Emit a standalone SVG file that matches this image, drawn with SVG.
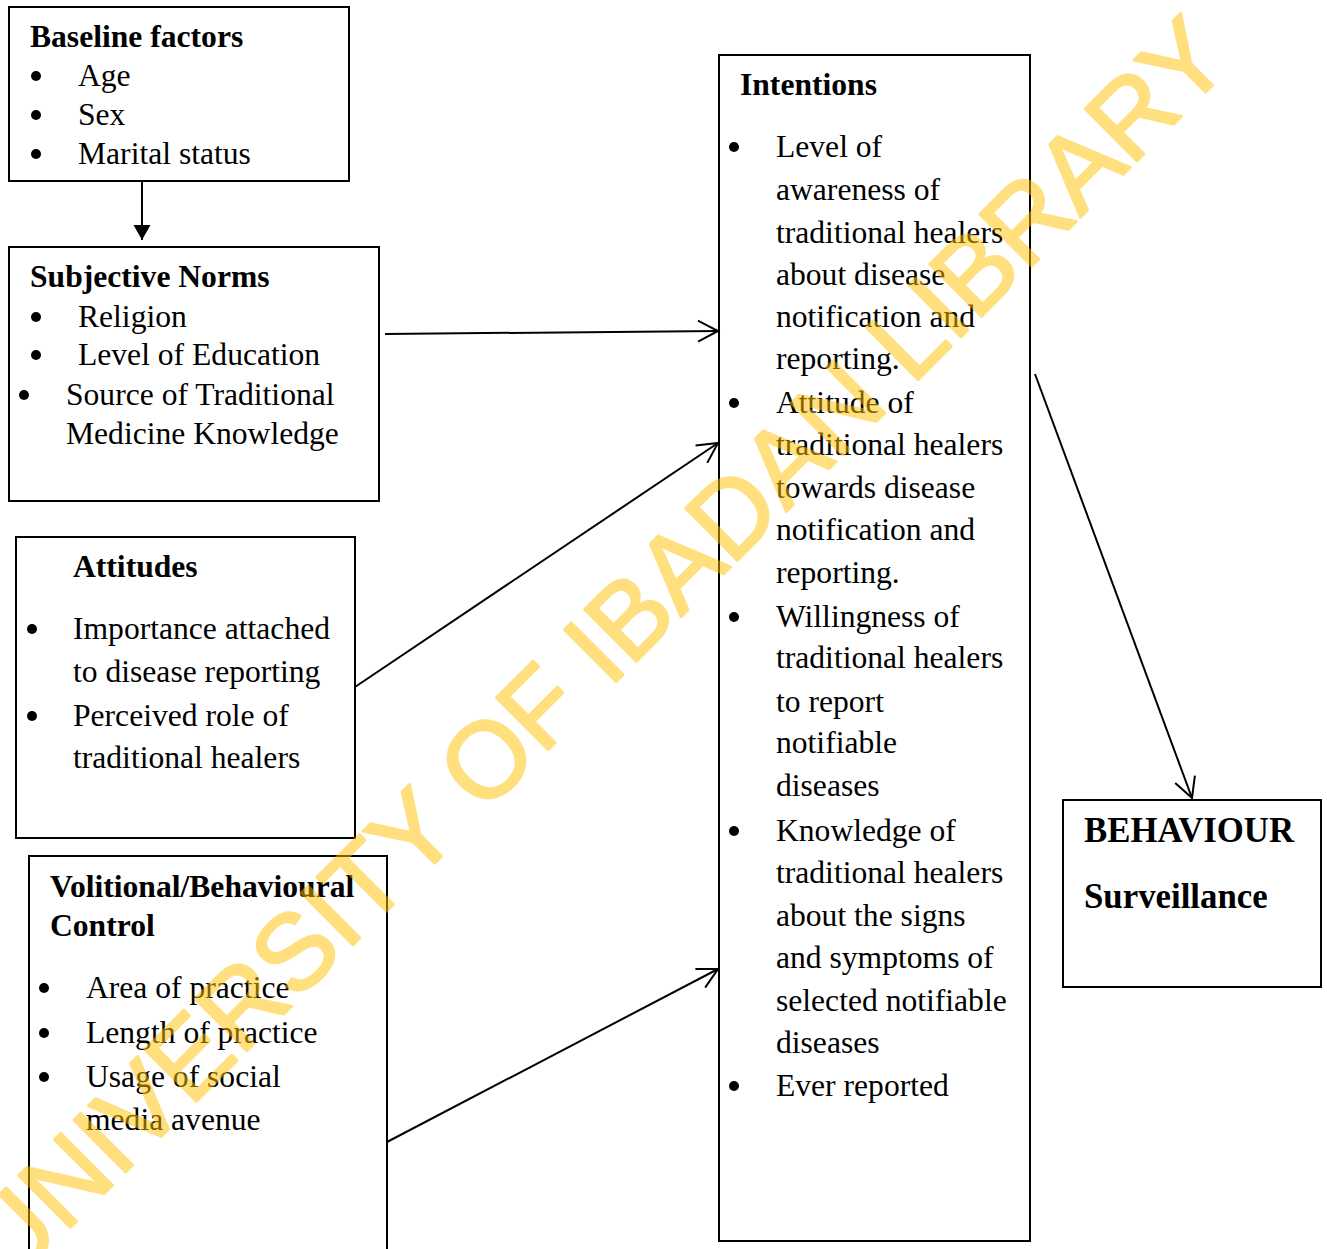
<svg xmlns="http://www.w3.org/2000/svg" width="1327" height="1249" viewBox="0 0 1327 1249">
<style>
.box{fill:#fff;stroke:#000;stroke-width:2}
.t{font-family:"Liberation Serif","Times New Roman",serif;font-size:31.6px;fill:#000}
.b{font-weight:bold}
.big{font-size:34.8px}
.blt{fill:#000}
.conn{stroke:#000;stroke-width:2;fill:none}
.wm{font-family:"Liberation Sans",Arial,sans-serif;font-size:107px;fill:#FFC000;stroke:#FFC000;stroke-width:2.5;stroke-linejoin:round}
</style>
<defs>
<marker id="open" markerUnits="userSpaceOnUse" markerWidth="26" markerHeight="26" viewBox="-23 -13 26 26" refX="0" refY="0" orient="auto" overflow="visible">
<path d="M-20,-10.5 L0,0 L-20,10.5" fill="none" stroke="#000" stroke-width="2"/>
</marker>
<marker id="solid" markerUnits="userSpaceOnUse" markerWidth="20" markerHeight="20" viewBox="-16 -10 20 20" refX="0" refY="0" orient="auto" overflow="visible">
<path d="M-15,-8.5 L0,0 L-15,8.5 Z" fill="#000"/>
</marker>
</defs>

<g id="baseline">
<rect class="box" x="9" y="7" width="340" height="174"/>
<text class="t b" x="30" y="47">Baseline factors</text>
<circle class="blt" cx="36" cy="76" r="5"/>
<circle class="blt" cx="36" cy="115" r="5"/>
<circle class="blt" cx="36" cy="154" r="5"/>
<text class="t"><tspan x="78" y="86">Age</tspan><tspan x="78" y="125">Sex</tspan><tspan x="78" y="164">Marital status</tspan></text>
</g>

<g id="subjective">
<rect class="box" x="9" y="247" width="370" height="254"/>
<text class="t b" x="30" y="287">Subjective Norms</text>
<circle class="blt" cx="36" cy="317" r="5"/>
<circle class="blt" cx="36" cy="355" r="5"/>
<circle class="blt" cx="24" cy="395" r="5"/>
<text class="t"><tspan x="78" y="327">Religion</tspan><tspan x="78" y="365">Level of Education</tspan><tspan x="66" y="405">Source of Traditional</tspan><tspan x="66" y="444">Medicine Knowledge</tspan></text>
</g>

<g id="attitudes">
<rect class="box" x="16" y="537" width="339" height="301"/>
<text class="t b" x="73" y="577">Attitudes</text>
<circle class="blt" cx="32" cy="629" r="5"/>
<circle class="blt" cx="32" cy="716" r="5"/>
<text class="t"><tspan x="73" y="639">Importance attached</tspan><tspan x="73" y="682">to disease reporting</tspan><tspan x="73" y="726">Perceived role of</tspan><tspan x="73" y="768">traditional healers</tspan></text>
</g>

<g id="volitional">
<path class="box" d="M29,1252 L29,856 L387,856 L387,1252"/>
<text class="t b"><tspan x="50" y="897">Volitional/Behavioural</tspan><tspan x="50" y="936">Control</tspan></text>
<circle class="blt" cx="44" cy="988" r="5"/>
<circle class="blt" cx="44" cy="1033" r="5"/>
<circle class="blt" cx="44" cy="1077" r="5"/>
<text class="t"><tspan x="86" y="998">Area of practice</tspan><tspan x="86" y="1043">Length of practice</tspan><tspan x="86" y="1087">Usage of social</tspan><tspan x="86" y="1130">media avenue</tspan></text>
</g>

<g id="intentions">
<rect class="box" x="719" y="55" width="311" height="1186"/>
<text class="t b" x="740" y="95">Intentions</text>
<circle class="blt" cx="734" cy="147" r="5"/>
<circle class="blt" cx="734" cy="403" r="5"/>
<circle class="blt" cx="734" cy="617" r="5"/>
<circle class="blt" cx="734" cy="831" r="5"/>
<circle class="blt" cx="734" cy="1086" r="5"/>
<text class="t">
<tspan x="776" y="157">Level of</tspan>
<tspan x="776" y="200">awareness of</tspan>
<tspan x="776" y="243">traditional healers</tspan>
<tspan x="776" y="285">about disease</tspan>
<tspan x="776" y="327">notification and</tspan>
<tspan x="776" y="369">reporting.</tspan>
<tspan x="776" y="413">Attitude of</tspan>
<tspan x="776" y="455">traditional healers</tspan>
<tspan x="776" y="498">towards disease</tspan>
<tspan x="776" y="540">notification and</tspan>
<tspan x="776" y="583">reporting.</tspan>
<tspan x="776" y="627">Willingness of</tspan>
<tspan x="776" y="668">traditional healers</tspan>
<tspan x="776" y="712">to report</tspan>
<tspan x="776" y="753">notifiable</tspan>
<tspan x="776" y="796">diseases</tspan>
<tspan x="776" y="841">Knowledge of</tspan>
<tspan x="776" y="883">traditional healers</tspan>
<tspan x="776" y="926">about the signs</tspan>
<tspan x="776" y="968">and symptoms of</tspan>
<tspan x="776" y="1011">selected notifiable</tspan>
<tspan x="776" y="1053">diseases</tspan>
<tspan x="776" y="1096">Ever reported</tspan>
</text>
</g>

<g id="behaviour">
<rect class="box" x="1063" y="800" width="258" height="187"/>
<text class="t b big"><tspan x="1084" y="842">BEHAVIOUR</tspan><tspan x="1084" y="908">Surveillance</tspan></text>
</g>

<g id="connectors">
<line class="conn" x1="142" y1="181" x2="142" y2="240" marker-end="url(#solid)"/>
<line class="conn" x1="385" y1="334" x2="718" y2="331" marker-end="url(#open)"/>
<line class="conn" x1="355" y1="687" x2="718" y2="443" marker-end="url(#open)"/>
<line class="conn" x1="387" y1="1142" x2="718" y2="969" marker-end="url(#open)"/>
<line class="conn" x1="1035" y1="374" x2="1192" y2="798" marker-end="url(#open)"/>
</g>

<g id="watermark" opacity="0.5">
<text class="wm" x="622" y="676" text-anchor="middle" transform="rotate(-45 622 676)">UNIVERSITY OF IBADAN LIBRARY</text>
</g>
</svg>
